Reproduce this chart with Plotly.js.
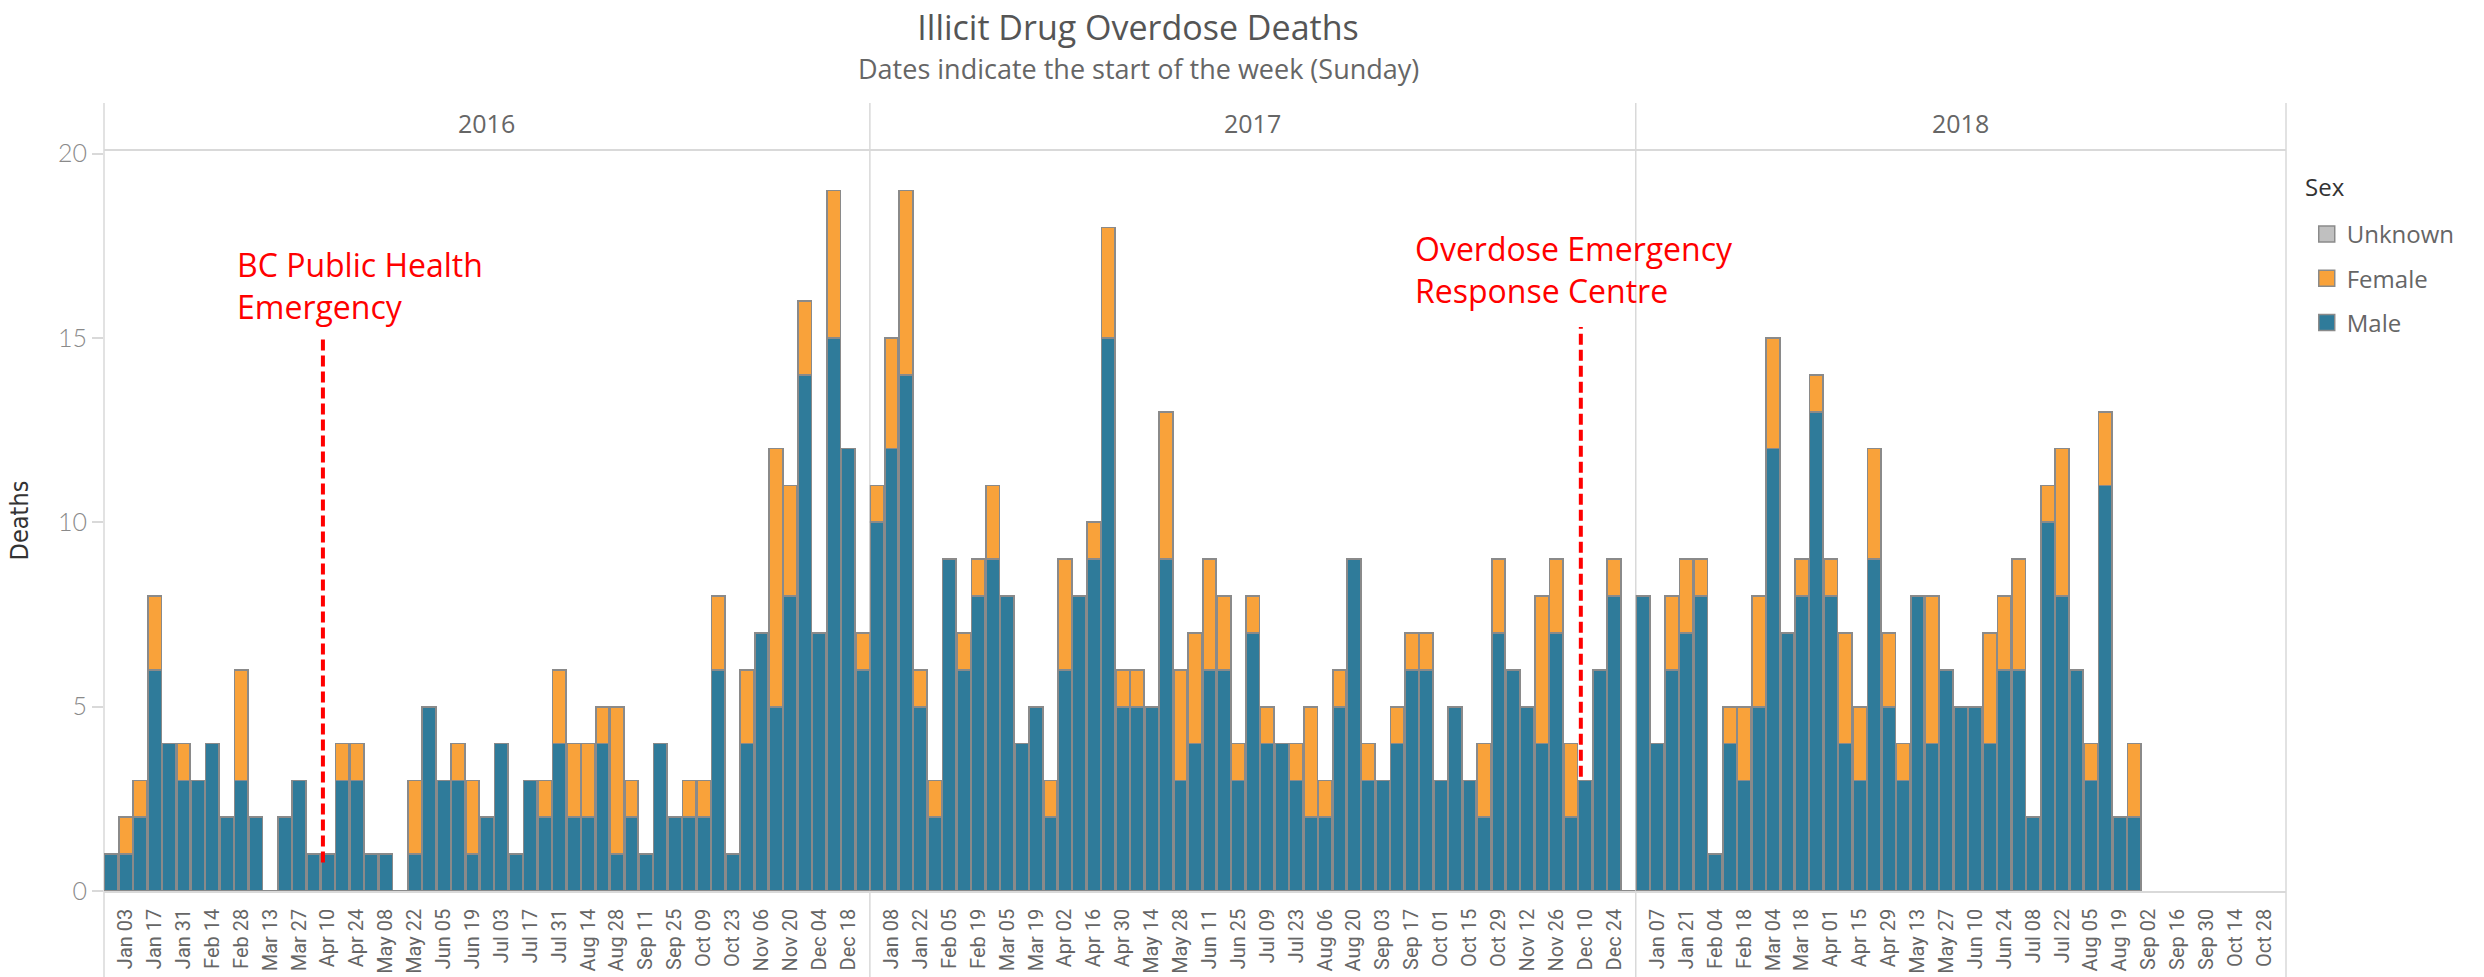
<!DOCTYPE html>
<html>
<head>
<meta charset="utf-8">
<script src="https://cdn.plot.ly/plotly-3.0.1.min.js"></script>
<style>
html,body{margin:0;padding:0;background:#fff;}
#chart{width:2484px;height:977px;}
</style>
</head>
<body>
<div id="chart"></div>
<script>
// ---------- DATA ----------
const years = ["2016", "2017", "2018"];

const weeks2016 = ["Dec 27","Jan 03","Jan 10","Jan 17","Jan 24","Jan 31","Feb 07","Feb 14","Feb 21","Feb 28",
  "Mar 06","Mar 13","Mar 20","Mar 27","Apr 03","Apr 10","Apr 17","Apr 24","May 01","May 08",
  "May 15","May 22","May 29","Jun 05","Jun 12","Jun 19","Jun 26","Jul 03","Jul 10","Jul 17",
  "Jul 24","Jul 31","Aug 07","Aug 14","Aug 21","Aug 28","Sep 04","Sep 11","Sep 18","Sep 25",
  "Oct 02","Oct 09","Oct 16","Oct 23","Oct 30","Nov 06","Nov 13","Nov 20","Nov 27","Dec 04",
  "Dec 11","Dec 18","Dec 25"];
const male2016 = [1,1,2,6,4,3,3,4,2,3, 2,0,2,3,1,1,3,3,1,1, 0,1,5,3,3,1,2,4,1,3,
  2,4,2,2,4,1,2,1,4,2, 2,2,6,1,4,7,5,8,14,7, 15,12,6];
const female2016 = [0,1,1,2,0,1,0,0,0,3, 0,0,0,0,0,0,1,1,0,0, 0,2,0,0,1,2,0,0,0,0,
  1,2,2,2,1,4,1,0,0,0, 1,1,2,0,2,0,7,3,2,0, 4,0,1];

const weeks2017 = ["Jan 01","Jan 08","Jan 15","Jan 22","Jan 29","Feb 05","Feb 12","Feb 19","Feb 26","Mar 05",
  "Mar 12","Mar 19","Mar 26","Apr 02","Apr 09","Apr 16","Apr 23","Apr 30","May 07","May 14",
  "May 21","May 28","Jun 04","Jun 11","Jun 18","Jun 25","Jul 02","Jul 09","Jul 16","Jul 23",
  "Jul 30","Aug 06","Aug 13","Aug 20","Aug 27","Sep 03","Sep 10","Sep 17","Sep 24","Oct 01",
  "Oct 08","Oct 15","Oct 22","Oct 29","Nov 05","Nov 12","Nov 19","Nov 26","Dec 03","Dec 10",
  "Dec 17","Dec 24","Dec 31"];
const male2017 = [10,12,14,5,2,9,6,8,9,8, 4,5,2,6,8,9,15,5,5,5, 9,3,4,6,6,3,7,4,4,3,
  2,2,5,9,3,3,4,6,6,3, 5,3,2,7,6,5,4,7,2,3, 6,8,0];
const female2017 = [1,3,5,1,1,0,1,1,2,0, 0,0,1,3,0,1,3,1,1,0, 4,3,3,3,2,1,1,1,0,1,
  3,1,1,0,1,0,1,1,1,0, 0,0,2,2,0,0,4,2,2,0, 0,1,0];

const weeks2018 = ["Dec 31","Jan 07","Jan 14","Jan 21","Jan 28","Feb 04","Feb 11","Feb 18","Feb 25","Mar 04",
  "Mar 11","Mar 18","Mar 25","Apr 01","Apr 08","Apr 15","Apr 22","Apr 29","May 06","May 13",
  "May 20","May 27","Jun 03","Jun 10","Jun 17","Jun 24","Jul 01","Jul 08","Jul 15","Jul 22",
  "Jul 29","Aug 05","Aug 12","Aug 19","Aug 26","Sep 02","Sep 09","Sep 16","Sep 23","Sep 30",
  "Oct 07","Oct 14","Oct 21","Oct 28","Nov 04"];
const male2018 = [8,4,6,7,8,1,4,3,5,12, 7,8,13,8,4,3,9,5,3,8, 4,6,5,5,4,6,6,2,10,8,
  6,3,11,2,2];
const female2018 = [0,0,2,2,1,0,1,2,3,3, 0,1,1,1,3,2,3,2,1,0, 4,0,0,0,3,2,3,0,1,4,
  0,1,2,0,2];

const legendTitle = "Sex";
const sexes = ["Unknown", "Female", "Male"];

const eventLabels = ["BC Public Health<br>Emergency", "Overdose Emergency<br>Response Centre"];
const eventYear = ["2016", "2017"];
const eventWeek = ["Apr 10", "Dec 10"];

// ---------- STYLE ----------
const colors = {Unknown: "#c0c0c0", Female: "#f9a23a", Male: "#2f7b9a"};
const outline = "#8a8a8a";
const frame = "#d9d9d9";
const labelFont = "Roboto, 'DejaVu Sans', sans-serif";
const textFont = "'Open Sans', 'Noto Sans', sans-serif";

const weeksByYear = [weeks2016, weeks2017, weeks2018];
const maleByYear = [male2016, male2017, male2018];
const femaleByYear = [female2016, female2017, female2018];

const total = weeksByYear.reduce((s, w) => s + w.length, 0);
const domains = [];
let acc = 0;
weeksByYear.forEach(w => { const a = acc / total; acc += w.length; domains.push([a, acc / total]); });

const axisName = i => (i === 0 ? "x" : "x" + (i + 1));
const axisKey = i => (i === 0 ? "xaxis" : "xaxis" + (i + 1));

const traces = [];
// legend entries
sexes.forEach(s => {
  traces.push({
    type: "scatter", mode: "markers", x: [null], y: [null], xaxis: "x3", yaxis: "y",
    name: s, legendgroup: s, showlegend: true, hoverinfo: "skip",
    marker: {symbol: "square", size: 16, color: colors[s], line: {color: outline, width: 1.5}}
  });
});
// bars
years.forEach((yr, i) => {
  const w = weeksByYear[i];
  [["Male", maleByYear[i]], ["Female", femaleByYear[i]]].forEach(([s, vals]) => {
    traces.push({
      type: "bar", name: s, x: w.slice(0, vals.length), y: vals,
      xaxis: axisName(i), yaxis: "y", showlegend: false,
      marker: {color: colors[s], line: {color: outline, width: 1.7}},
      hovertemplate: yr + " %{x}<br>" + s + ": %{y}<extra></extra>"
    });
  });
});

const layout = {
  width: 2484, height: 977,
  margin: {l: 104, r: 198, t: 150, b: 86, pad: 0},
  paper_bgcolor: "#fff", plot_bgcolor: "#fff",
  barmode: "stack", bargap: 0.06,
  font: {family: textFont, color: "#666"},
  title: {
    text: "Illicit Drug Overdose Deaths",
    x: 1138 / 2484, xanchor: "center", xref: "container",
    y: 1 - 28 / 977, yanchor: "middle", yref: "container",
    font: {family: textFont, size: 34, color: "#555"}
  },
  yaxis: {
    domain: [0, 1], range: [0, 20.1], tickvals: [0, 5, 10, 15, 20],
    ticks: "outside", ticklen: 11, tickwidth: 1.5, tickcolor: frame,
    showline: false, showgrid: false, zeroline: false,
    tickfont: {family: "Lato, 'Open Sans', sans-serif", size: 25, color: "#8a8a8a", weight: 300},
    title: {text: "Deaths", standoff: 22,
      font: {family: "'Liberation Sans Narrow', 'DejaVu Sans Condensed', sans-serif", size: 25, color: "#333"}}
  },
  legend: {
    x: 1.0095, xanchor: "left", y: (891 - 212) / 741, yanchor: "top",
    traceorder: "grouped", tracegroupgap: 10,
    font: {family: textFont, size: 24, color: "#666"},
    bgcolor: "rgba(0,0,0,0)", itemwidth: 30
  },
  shapes: [], annotations: []
};

weeksByYear.forEach((w, i) => {
  layout[axisKey(i)] = {
    domain: domains[i], anchor: "y", type: "category",
    categoryorder: "array", categoryarray: w,
    range: [-0.5, w.length - 0.5],
    tickmode: "array", tickvals: w.filter((_, k) => k % 2 === 1),
    tickangle: -90, ticks: "", ticklabelstandoff: 8,
    tickfont: {family: labelFont, size: 20, color: "#666"},
    showline: true, linecolor: frame, linewidth: 1.5,
    showgrid: false, zeroline: false
  };
  // header year label
  layout.annotations.push({
    text: years[i], xref: "paper", yref: "paper",
    x: (domains[i][0] + domains[i][1]) / 2, y: (891 - 123) / 741,
    xanchor: "center", yanchor: "middle", showarrow: false,
    font: {family: textFont, size: 25, color: "#666"}
  });
});

// legend title
layout.annotations.push({
  text: legendTitle, xref: "paper", yref: "paper", x: (2303 - 104) / 2182, y: (891 - 186) / 741,
  xanchor: "left", yanchor: "middle", showarrow: false,
  font: {family: textFont, size: 24, color: "#333"}
});

// facet frame lines
const yBottom = (891 - 977) / 741, yHeaderTop = (891 - 103) / 741;
[0, domains[0][1], domains[1][1], 1].forEach(xp => {
  layout.shapes.push({type: "line", xref: "paper", yref: "paper", x0: xp, x1: xp,
    y0: yBottom, y1: yHeaderTop, line: {color: frame, width: 1.5}, layer: "below"});
});
layout.shapes.push({type: "line", xref: "paper", yref: "paper", x0: 0, x1: 1, y0: 1, y1: 1,
  line: {color: frame, width: 2}});

// subtitle
layout.annotations.push({
  text: "Dates indicate the start of the week (Sunday)", xref: "paper", yref: "paper",
  x: (1138 - 104) / 2182, y: (891 - 68) / 741, xanchor: "center", yanchor: "middle",
  showarrow: false, font: {family: textFont, size: 27, color: "#666"}
});

// event markers
const eventStyle = [
  {offset: -0.35, y0: 0.77, y1: 15.0, ty: 16.42, shift: -88},
  {offset: -0.3, y0: 3.1, y1: 15.3, ty: 16.87, shift: -168}
];
eventLabels.forEach((lab, e) => {
  const yi = years.indexOf(eventYear[e]);
  const xi = weeksByYear[yi].indexOf(eventWeek[e]) + eventStyle[e].offset;
  const st = eventStyle[e];
  layout.shapes.push({type: "line", xref: axisName(yi), yref: "y", x0: xi, x1: xi,
    y0: st.y0, y1: st.y1, line: {color: "#ff0000", width: 4, dash: "11px,5px"}});
  layout.annotations.push({text: lab, xref: axisName(yi), yref: "y", x: xi, y: st.ty,
    xanchor: "left", yanchor: "middle", xshift: st.shift, align: "left", showarrow: false,
    font: {family: textFont, size: 32, color: "#ff0000"}});
});

Plotly.newPlot("chart", traces, layout, {displayModeBar: false, responsive: false});
</script>
</body>
</html>
